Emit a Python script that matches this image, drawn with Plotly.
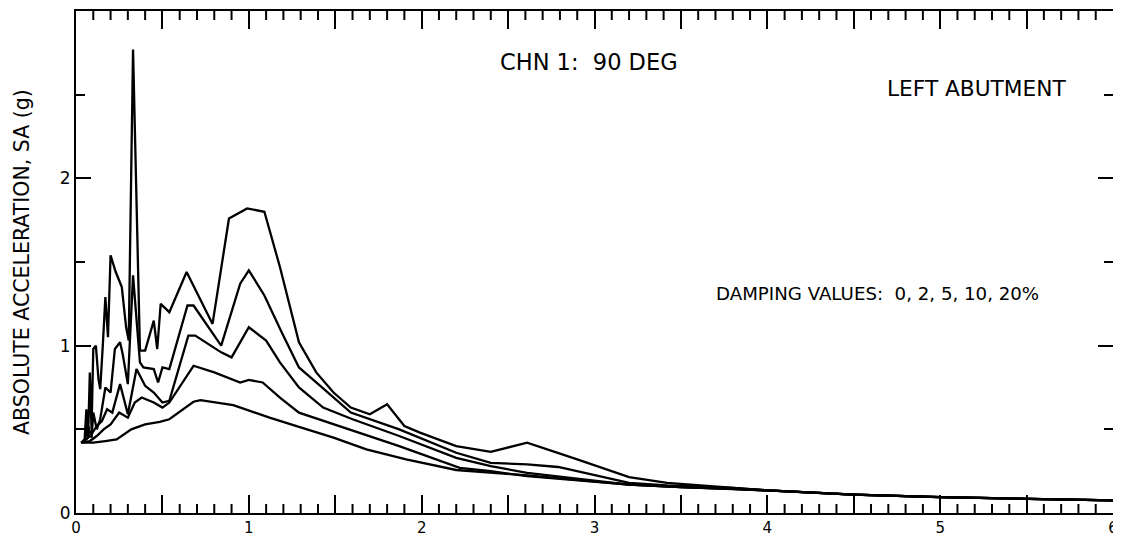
import plotly.graph_objects as go

# ---- data (period in s, spectral acceleration in g) ----
damping_labels = ["0%", "2%", "5%", "10%", "20%"]

t_d0 = [0.03,0.05,0.06,0.07,0.08,0.09,0.10,0.115,0.13,0.14,0.155,0.17,0.185,0.20,0.23,0.265,0.29,0.305,0.33,0.37,0.40,0.45,0.47,0.49,0.54,0.64,0.79,0.885,0.99,1.09,1.18,1.29,1.39,1.49,1.59,1.70,1.80,1.90,1.99,2.10,2.20,2.40,2.61,2.90,3.20,3.42,3.78,4.0,4.5,5.0,5.5,6.0]
sa_d0 = [0.42,0.44,0.62,0.45,0.84,0.50,0.98,1.00,0.80,0.74,1.00,1.29,1.05,1.54,1.44,1.35,1.11,1.03,2.77,0.97,0.97,1.15,0.98,1.25,1.20,1.44,1.13,1.76,1.82,1.80,1.47,1.02,0.84,0.72,0.63,0.59,0.65,0.52,0.48,0.44,0.40,0.365,0.42,0.32,0.215,0.18,0.15,0.135,0.11,0.095,0.085,0.075]

t_d2 = [0.03,0.05,0.07,0.09,0.10,0.12,0.14,0.17,0.20,0.225,0.255,0.27,0.30,0.33,0.37,0.39,0.45,0.475,0.50,0.54,0.645,0.68,0.84,0.95,1.0,1.09,1.19,1.29,1.39,1.59,1.87,2.2,2.4,2.61,2.79,3.2,3.42,3.8,4.0,4.5,5.0,5.5,6.0]
sa_d2 = [0.42,0.43,0.52,0.45,0.60,0.50,0.56,0.75,0.72,0.98,1.02,0.95,0.77,1.42,0.90,0.87,0.86,0.78,0.87,0.86,1.24,1.24,1.00,1.37,1.45,1.30,1.08,0.87,0.78,0.60,0.50,0.36,0.30,0.29,0.275,0.18,0.165,0.15,0.135,0.11,0.095,0.085,0.075]

t_d5 = [0.03,0.06,0.09,0.12,0.15,0.18,0.21,0.255,0.30,0.35,0.40,0.45,0.50,0.54,0.65,0.69,0.84,0.90,1.0,1.10,1.18,1.29,1.43,1.6,1.87,2.2,2.4,2.61,3.2,3.5,3.8,4.0,4.5,5.0,5.5,6.0]
sa_d5 = [0.42,0.44,0.47,0.52,0.55,0.62,0.60,0.77,0.59,0.86,0.76,0.72,0.66,0.67,1.06,1.06,0.96,0.93,1.11,1.03,0.90,0.75,0.63,0.56,0.46,0.33,0.28,0.24,0.17,0.155,0.145,0.135,0.11,0.095,0.085,0.075]

t_d10 = [0.03,0.08,0.12,0.16,0.20,0.25,0.30,0.34,0.38,0.45,0.50,0.54,0.68,0.80,0.95,1.0,1.08,1.18,1.29,1.49,1.87,2.22,2.4,2.61,3.2,3.5,3.8,4.0,4.5,5.0,5.5,6.0]
sa_d10 = [0.42,0.43,0.46,0.50,0.53,0.60,0.57,0.66,0.69,0.66,0.63,0.66,0.88,0.84,0.78,0.795,0.78,0.69,0.60,0.53,0.40,0.27,0.25,0.22,0.17,0.155,0.145,0.135,0.11,0.095,0.085,0.075]

t_d20 = [0.03,0.10,0.17,0.235,0.32,0.40,0.485,0.54,0.68,0.72,0.91,1.12,1.29,1.49,1.68,1.91,2.2,2.4,2.61,3.2,3.5,3.8,4.0,4.5,5.0,5.5,6.0]
sa_d20 = [0.42,0.42,0.43,0.44,0.50,0.53,0.545,0.56,0.665,0.675,0.645,0.57,0.515,0.45,0.38,0.32,0.257,0.24,0.225,0.17,0.155,0.145,0.135,0.11,0.095,0.085,0.075]

x_tickvals = [0, 0.5, 1, 1.5, 2, 2.5, 3, 3.5, 4, 4.5, 5, 5.5, 6]
x_ticktext = ["0", "", "1", "", "2", "", "3", "", "4", "", "5", "", "6"]
x_minorvals = [i / 10 for i in range(1, 60) if i % 5]
y_tickvals = [0, 1, 2, 3]
y_ticktext = ["0", "1", "2", "3"]
y_minorvals = [0.5, 1.5, 2.5]

FONT = "DejaVu Sans"

fig = go.Figure()
series = [(t_d0, sa_d0), (t_d2, sa_d2), (t_d5, sa_d5), (t_d10, sa_d10), (t_d20, sa_d20)]
for (t, sa), lab in zip(series, damping_labels):
    fig.add_trace(go.Scatter(x=t, y=sa, mode="lines", name=lab,
                             line=dict(color="black", width=2.3), showlegend=False))

# page body keeps its default 8px margin, so the figure is sized/offset to fit
fig.update_layout(
    width=1113, height=529,
    margin=dict(l=68, r=8, t=3, b=24, autoexpand=False),
    paper_bgcolor="white", plot_bgcolor="white",
    font=dict(family=FONT, color="black", size=17),
)
fig.update_xaxes(
    range=[0, 6], showgrid=False, zeroline=False, automargin=False,
    showline=True, linecolor="black", linewidth=2, mirror="allticks",
    tickmode="array", tickvals=x_tickvals, ticktext=x_ticktext,
    ticks="inside", ticklen=18, tickwidth=2, tickcolor="black",
    tickfont=dict(family=FONT, size=15),
)
fig.update_yaxes(
    range=[0, 3], showgrid=False, zeroline=False, automargin=False,
    showline=True, linecolor="black", linewidth=2, mirror="allticks",
    tickmode="array", tickvals=y_tickvals, ticktext=y_ticktext,
    ticks="inside", ticklen=15, tickwidth=2, tickcolor="black",
    minor=dict(tickmode="array", tickvals=y_minorvals, ticks="inside", ticklen=9,
               tickwidth=2, tickcolor="black", showgrid=False),
    tickfont=dict(family=FONT, size=17),
)

# fine x tick marks every 0.1 s on bottom and top frame edges
for v in x_minorvals:
    for anchor, length in ((0, 9), (1, -9)):
        fig.add_shape(type="line", xref="x", yref="paper", ysizemode="pixel",
                      yanchor=anchor, x0=v, x1=v, y0=0, y1=length,
                      line=dict(color="black", width=2))

fig.add_annotation(text="ABSOLUTE ACCELERATION, SA (g)", textangle=-90,
                   xref="paper", yref="paper", x=(22 - 76) / 1037, y=0.5,
                   xanchor="center", yanchor="middle", showarrow=False,
                   font=dict(family=FONT, size=20.5))
fig.add_annotation(text="CHN 1:  90 DEG", xref="paper", yref="paper",
                   x=(589 - 76) / 1037, y=(513 - 62) / 502, xanchor="center", yanchor="middle",
                   showarrow=False, font=dict(family=FONT, size=22.5))
fig.add_annotation(text="LEFT ABUTMENT", xref="paper", yref="paper",
                   x=(976 - 76) / 1037, y=(513 - 89) / 502, xanchor="center", yanchor="middle",
                   showarrow=False, font=dict(family=FONT, size=21.7))
fig.add_annotation(text="DAMPING VALUES:  0, 2, 5, 10, 20%", xref="paper", yref="paper",
                   x=(877 - 76) / 1037, y=(513 - 293) / 502, xanchor="center", yanchor="middle",
                   showarrow=False, font=dict(family=FONT, size=18.2))

fig.write_html("out.html", config={"displayModeBar": False})
